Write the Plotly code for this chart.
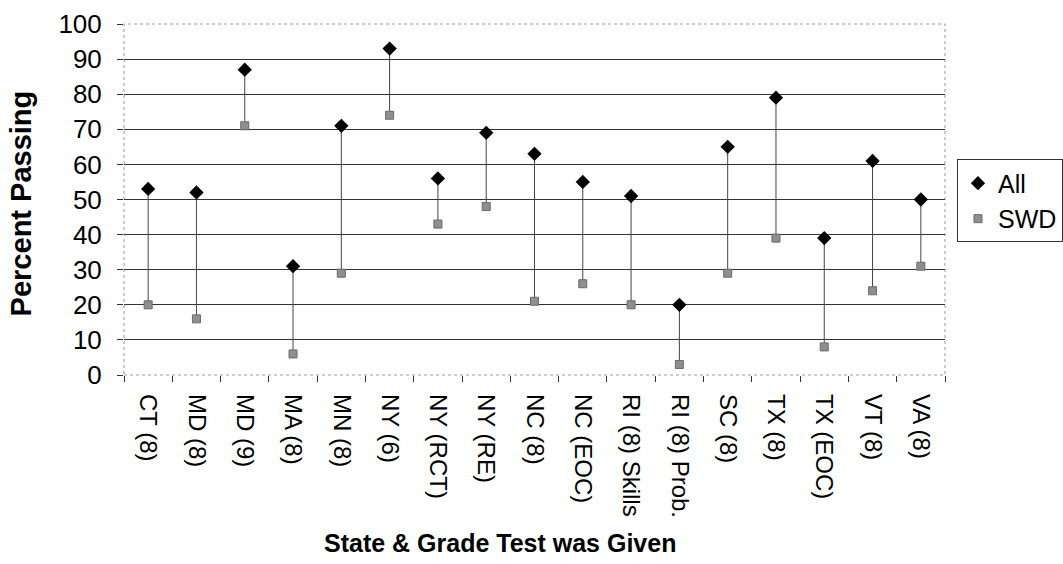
import plotly.graph_objects as go

categories = ["CT (8)", "MD (8)", "MD (9)", "MA (8)", "MN (8)", "NY (6)", "NY (RCT)", "NY (RE)",
              "NC (8)", "NC (EOC)", "RI (8) Skills", "RI (8) Prob.", "SC (8)", "TX (8)", "TX (EOC)",
              "VT (8)", "VA (8)"]
all_vals = [53, 52, 87, 31, 71, 93, 56, 69, 63, 55, 51, 20, 65, 79, 39, 61, 50]
swd_vals = [20, 16, 71, 6, 29, 74, 43, 48, 21, 26, 20, 3, 29, 39, 8, 24, 31]
y_ticks = [0, 10, 20, 30, 40, 50, 60, 70, 80, 90, 100]

FONT = "Arial, Liberation Sans, sans-serif"

# high-low connector lines
hx, hy = [], []
for c, a, s in zip(categories, all_vals, swd_vals):
    hx += [c, c, None]
    hy += [a, s, None]

fig = go.Figure()
fig.add_trace(go.Scatter(x=hx, y=hy, mode="lines", line=dict(color="#444444", width=1),
                         showlegend=False, hoverinfo="skip"))
fig.add_trace(go.Scatter(x=categories, y=all_vals, mode="markers", name="All",
                         marker=dict(symbol="diamond", size=11, color="black")))
fig.add_trace(go.Scatter(x=categories, y=swd_vals, mode="markers", name="SWD",
                         marker=dict(symbol="square", size=8, color="#8f8f8f",
                                     line=dict(color="#6a6a6a", width=1))))

fig.update_layout(
    width=1063, height=564,
    margin=dict(l=124, r=118, t=24, b=189, autoexpand=False),
    paper_bgcolor="white", plot_bgcolor="white",
    font=dict(family=FONT, color="black"),
    legend=dict(x=1.0146, y=0.496, xanchor="left", yanchor="middle",
                bordercolor="#333333", borderwidth=1, font=dict(size=25, family=FONT),
                itemwidth=30, tracegroupgap=0),
    shapes=[dict(type="rect", xref="paper", yref="paper", x0=0, y0=0, x1=1, y1=1,
                 line=dict(color="#999999", width=1, dash="dot"), layer="below")],
    annotations=[
        dict(text="<b>State & Grade Test was Given</b>", xref="paper", yref="paper",
             x=0.458, y=-0.478, xanchor="center", yanchor="middle", showarrow=False,
             font=dict(size=25, family=FONT)),
        dict(text="<b>Percent Passing</b>", xref="paper", yref="paper", textangle=-90,
             x=-0.125, y=0.49, xanchor="center", yanchor="middle", showarrow=False,
             font=dict(size=29, family=FONT)),
    ],
)
fig.update_xaxes(
    type="category", categoryorder="array", categoryarray=categories,
    tickangle=90, tickfont=dict(size=24, family=FONT), ticklabelstandoff=18,
    ticks="outside", ticklen=6, tickcolor="#333333", tickson="boundaries",
    showgrid=False, showline=False, range=[-0.5, len(categories) - 0.5],
)
fig.update_yaxes(
    range=[0, 100], tickvals=y_ticks, tickfont=dict(size=26, family=FONT), ticklabelstandoff=10,
    ticks="outside", ticklen=6, tickcolor="#333333",
    showgrid=True, gridcolor="#333333", gridwidth=1, zeroline=False, showline=False,
)
fig.write_html("out.html")
